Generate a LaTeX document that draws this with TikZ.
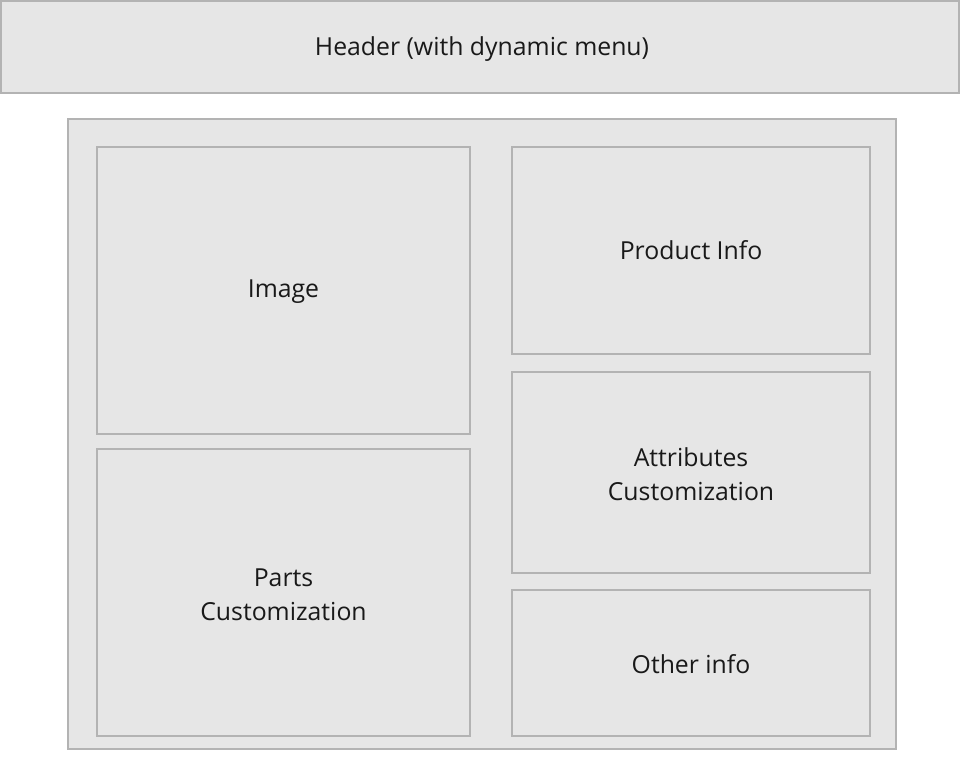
\documentclass[tikz,border=0pt]{standalone}
\usepackage{fontspec}
\setmainfont{Open Sans}
\definecolor{boxfill}{HTML}{E6E6E6}
\definecolor{boxline}{HTML}{B3B3B3}
\begin{document}
\begin{tikzpicture}[x=1pt,y=-1pt,
  panel/.style={draw=boxline,fill=boxfill,line width=1.1pt},
  lbl/.style={font=\fontsize{24.8}{34}\selectfont,text=black!90,align=center}]
\useasboundingbox (0,0) rectangle (960,770);
\fill[white] (0,0) rectangle (960,770);
\draw[panel] (1,1) rectangle (959,93);
\node[lbl] (header) at (482,49.5) {Header (with dynamic menu)};
\draw[panel] (68,119) rectangle (896,749);
\draw[panel] (97,147) rectangle (470,434);
\node[lbl] (image) at (283.5,291.5) {Image};
\draw[panel] (97,449) rectangle (470,736);
\node[lbl] (parts) at (283.5,594.5) {Parts\\Customization};
\draw[panel] (512,147) rectangle (870,354);
\node[lbl] (prod) at (691,250.5) {Product Info};
\draw[panel] (512,372) rectangle (870,573);
\node[lbl] (attr) at (691,474) {Attributes\\Customization};
\draw[panel] (512,590) rectangle (870,736);
\node[lbl] (other) at (691,664.5) {Other info};
\end{tikzpicture}
\end{document}
